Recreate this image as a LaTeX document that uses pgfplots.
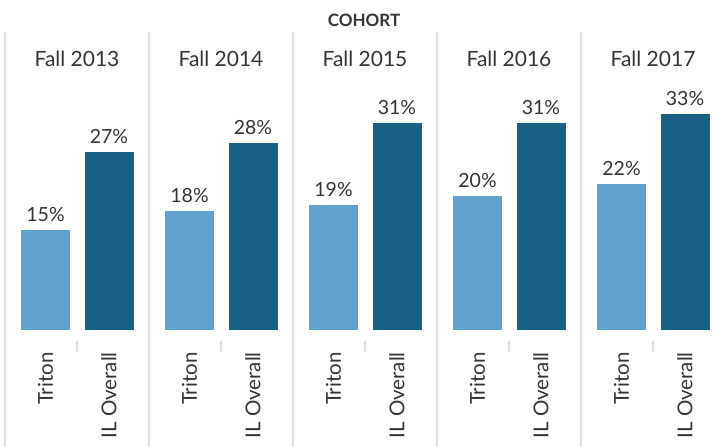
\documentclass[border=0pt]{standalone}
\usepackage{fontspec}
\setmainfont{Lato}
\usepackage{pgfplots}
\pgfplotsset{compat=1.18}
\definecolor{lb}{HTML}{5FA2CE}
\definecolor{db}{HTML}{1A6285}
\definecolor{tx}{HTML}{333333}
\definecolor{sep}{HTML}{DCDCDC}

\newcommand{\panel}[4]{%
\begin{axis}[
  at={(#1pt,117pt)}, anchor=south west,
  scale only axis, width=144pt, height=297pt,
  xmin=-0.638, xmax=1.630, ymin=0, ymax=45,
  axis lines=left, axis line style={draw=none},
  ytick=\empty, xtick={0,1}, xticklabels={Triton,IL Overall},
  xtick style={draw=none},
  xticklabel style={font=\fontsize{20.5}{20.5}\selectfont, text=tx, inner sep=0pt, yshift=-20pt, rotate=90, anchor=east},
  bar width=49pt, clip=false,
  /pgf/number format/assume math mode=true,
  nodes near coords={\pgfmathprintnumber[fixed,precision=0]{\pgfplotspointmeta}\%},
  nodes near coords style={font=\fontsize{19.5}{19.5}\selectfont, text=tx, anchor=south, inner sep=0pt, yshift=8pt},
]
\addplot[ybar, fill=lb, draw=none, bar shift=0pt] coordinates {(0,#3)};
\addplot[ybar, fill=db, draw=none, bar shift=0pt] coordinates {(1,#4)};
\draw[sep, line width=2pt] ([yshift=-11pt]axis cs:0.5,0) -- ([yshift=-22pt]axis cs:0.5,0);
\end{axis}
\node[font=\fontsize{21}{21}\selectfont, text=tx, anchor=base] at ({#1pt+72pt},380pt) {Fall #2};
}

\begin{document}
\begin{tikzpicture}
\path[use as bounding box] (0,0) rectangle (718pt,447pt);
\foreach \x in {5,149,293,437,581} {
  \draw[sep, line width=2pt] (\x pt,0) -- (\x pt,415pt);
}
\node[font=\bfseries\fontsize{17}{17}\selectfont, text=tx, anchor=base] at (364pt,420pt) {COHORT};
\panel{5}{2013}{15.1}{27.0}
\panel{149}{2014}{18.0}{28.3}
\panel{293}{2015}{18.9}{31.4}
\panel{437}{2016}{20.3}{31.4}
\panel{581}{2017}{22.1}{32.7}
\end{tikzpicture}
\end{document}
